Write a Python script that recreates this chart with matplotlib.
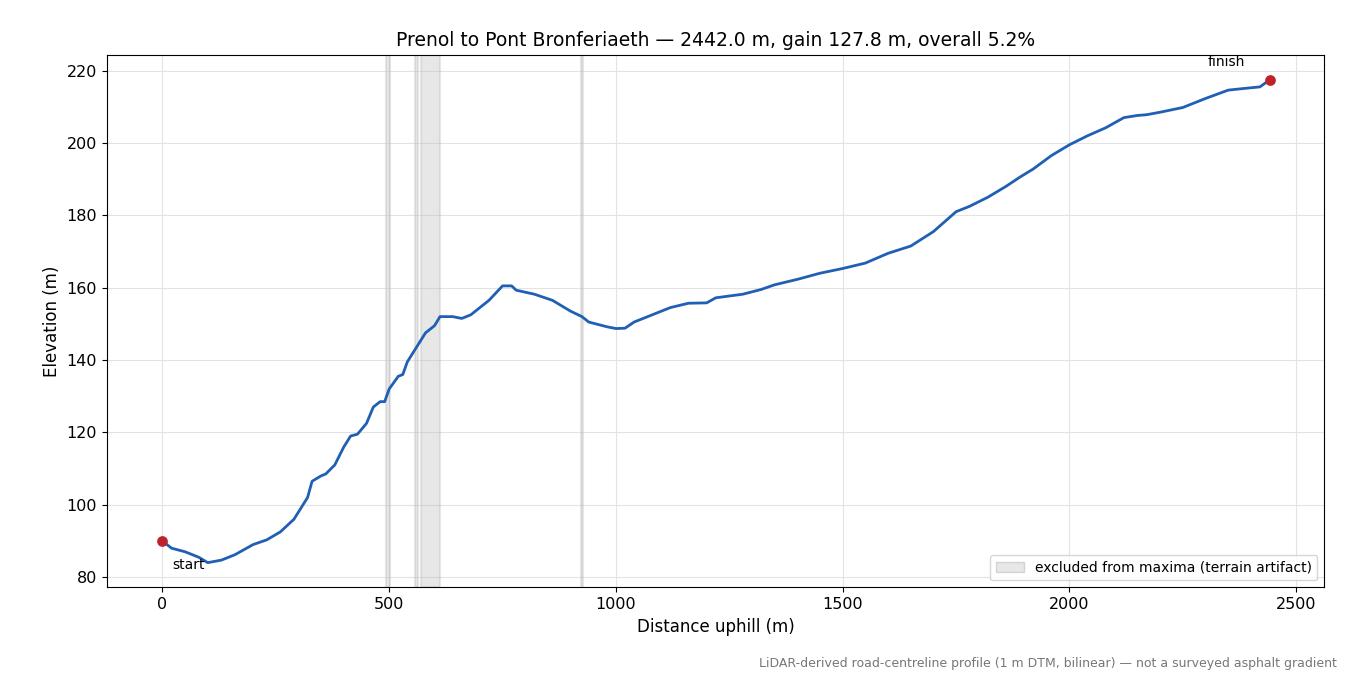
import matplotlib.pyplot as plt
from matplotlib.patches import Patch

dist = [0, 20, 50, 80, 100, 130, 160, 200, 230, 260, 290, 310, 320, 330, 350, 360, 380, 400, 415,
        430, 450, 465, 480, 490, 500, 520, 530, 540, 560, 580, 600, 612, 640, 660, 680, 720, 750,
        770, 780, 820, 860, 900, 925, 940, 980, 1000, 1020, 1040, 1080, 1120, 1160, 1200, 1220,
        1280, 1320, 1350, 1400, 1450, 1500, 1550, 1600, 1650, 1700, 1750, 1780, 1820, 1860, 1890,
        1920, 1960, 2000, 2040, 2080, 2120, 2150, 2170, 2200, 2250, 2300, 2350, 2380, 2420, 2442]
elev = [90, 88, 87, 85.5, 84, 84.7, 86.2, 89, 90.3, 92.5, 96, 100, 102, 106.5, 108, 108.5, 111,
        116, 119, 119.5, 122.5, 127, 128.5, 128.5, 132, 135.5, 136, 139.5, 143.5, 147.5, 149.5,
        152, 152, 151.5, 152.5, 156.5, 160.5, 160.5, 159.3, 158.2, 156.5, 153.5, 152, 150.5, 149.2,
        148.7, 148.8, 150.5, 152.5, 154.5, 155.7, 155.8, 157.2, 158.2, 159.5, 160.8, 162.3, 164,
        165.3, 166.8, 169.5, 171.5, 175.5, 181, 182.5, 185, 188, 190.5, 192.8, 196.5, 199.5, 202,
        204.2, 207, 207.6, 207.8, 208.5, 209.8, 212.3, 214.6, 215, 215.5, 217.5]
excluded = [(494, 502), (558, 564), (571, 612), (922, 928)]

fig, ax = plt.subplots(figsize=(13.5, 6.75), dpi=100)
for a, b in excluded:
    ax.axvspan(a, b, color='#bbbbbb', alpha=0.35, lw=1.5, ec='#bbbbbb')
ax.plot(dist, elev, color='#1f5fb4', lw=2)
ax.scatter([dist[0], dist[-1]], [elev[0], elev[-1]], color='#c0222a', s=45, zorder=5)
ax.annotate('start', (dist[0], elev[0]), xytext=(7, -20), textcoords='offset points', fontsize=10)
ax.annotate('finish', (dist[-1], elev[-1]), xytext=(-45, 10), textcoords='offset points', fontsize=10)
ax.set_xlim(-123, 2562)
ax.set_ylim(77.2, 224.4)
ax.grid(color='#e3e3e3', lw=0.8)
ax.set_axisbelow(True)
ax.tick_params(labelsize=11.5)
ax.set_xlabel('Distance uphill (m)', fontsize=12)
ax.set_ylabel('Elevation (m)', fontsize=12)
ax.set_title('Prenol to Pont Bronferiaeth — 2442.0 m, gain 127.8 m, overall 5.2%', fontsize=13.5)
ax.legend(handles=[Patch(fc='#bbbbbb', alpha=0.35, ec='#999999', label='excluded from maxima (terrain artifact)')],
          loc='lower right', fontsize=10)
fig.text(0.99, 0.012, 'LiDAR-derived road-centreline profile (1 m DTM, bilinear) — not a surveyed asphalt gradient',
         ha='right', fontsize=9, color='#777777')
fig.subplots_adjust(left=0.079, right=0.981, top=0.919, bottom=0.13)
fig.savefig('out.png')
